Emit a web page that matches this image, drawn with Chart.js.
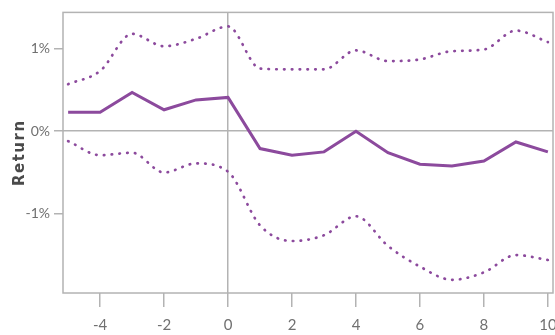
<!DOCTYPE html>
<html>
<head>
<meta charset="utf-8">
<script src="https://cdn.jsdelivr.net/npm/chart.js@4/dist/chart.umd.min.js"></script>
<style>
  html, body { margin: 0; padding: 0; background: #fff; }
  #wrap { width: 555px; height: 335px; }
</style>
</head>
<body>
<div id="wrap"><canvas id="event-chart"></canvas></div>
<script>
// days relative to the event
const days = [-5, -4, -3, -2, -1, 0, 1, 2, 3, 4, 5, 6, 7, 8, 9, 10];
// mean return, %
const meanReturn = [0.23, 0.23, 0.47, 0.26, 0.38, 0.41, -0.21, -0.29, -0.25, 0.0, -0.26, -0.40, -0.42, -0.36, -0.13, -0.25];
// upper / lower band, %
const upperBand = [0.57, 0.73, 1.18, 1.03, 1.12, 1.27, 0.76, 0.75, 0.75, 0.98, 0.85, 0.87, 0.97, 0.99, 1.22, 1.08];
const lowerBand = [-0.12, -0.29, -0.26, -0.50, -0.39, -0.49, -1.14, -1.33, -1.26, -1.03, -1.39, -1.64, -1.80, -1.71, -1.50, -1.56];
// tick labels
const xTicks = [-4, -2, 0, 2, 4, 6, 8, 10];
const yTicks = [-1, 0, 1];

const purple = '#8c4a9d';
const grey = '#b3b3b3';
const labelGrey = '#707070';

function toPoints(vals) {
    return days.map((d, i) => ({ x: d, y: vals[i] }));
}

// frame around the plot area + spaced-out axis title
const boxPlugin = {
    id: 'box',
    afterLayout(chart) {
        const s = chart.scales.y;
        if (!s._spaced) {
            const orig = s.drawTitle.bind(s);
            s.drawTitle = function () {
                const c = this.ctx;
                const old = c.letterSpacing;
                c.letterSpacing = '1.5px';
                orig();
                c.letterSpacing = old;
            };
            s._spaced = true;
        }
    },
    beforeDatasetsDraw(chart) {
        const a = chart.chartArea;
        const ctx = chart.ctx;
        ctx.save();
        ctx.strokeStyle = grey;
        ctx.lineWidth = 1.5;
        ctx.strokeRect(a.left, a.top, a.right - a.left, a.bottom - a.top);
        ctx.restore();
    }
};

const dotted = {
    borderColor: purple,
    borderWidth: 2.7,
    borderDash: [0.5, 7.3],
    borderCapStyle: 'round',
    pointRadius: 0,
    cubicInterpolationMode: 'monotone',
    fill: false
};

let ctx = document.getElementById('event-chart').getContext('2d');
let myChart = new Chart(ctx, {
    type: 'line',
    data: {
        datasets: [
            Object.assign({ label: 'Upper', data: toPoints(upperBand) }, dotted),
            Object.assign({ label: 'Lower', data: toPoints(lowerBand) }, dotted),
            {
                label: 'Return',
                data: toPoints(meanReturn),
                borderColor: purple,
                borderWidth: 3,
                pointRadius: 0,
                tension: 0,
                fill: false
            }
        ]
    },
    options: {
        responsive: true,
        maintainAspectRatio: false,
        animation: false,
        layout: { padding: { top: 12, right: 2, bottom: 0, left: 0 } },
        plugins: { legend: { display: false }, tooltip: { enabled: false } },
        scales: {
            x: {
                type: 'linear',
                min: -5.16,
                max: 10.16,
                afterBuildTicks: (scale) => { scale.ticks = xTicks.map(v => ({ value: v })); },
                afterFit: (scale) => {
                    scale.height = 42;
                    scale.paddingLeft = 0;
                    scale.paddingRight = 0;
                },
                border: { display: false },
                grid: {
                    color: (c) => c.tick && c.tick.value === 0 ? grey : 'rgba(0,0,0,0)',
                    tickColor: grey,
                    tickLength: 14,
                    lineWidth: 1.5
                },
                ticks: {
                    color: labelGrey,
                    font: { family: 'Lato, sans-serif', size: 15 },
                    padding: 9,
                    maxRotation: 0
                }
            },
            y: {
                min: -1.96,
                max: 1.44,
                afterBuildTicks: (scale) => { scale.ticks = yTicks.map(v => ({ value: v })); },
                afterFit: (scale) => { scale.width = 63; },
                border: { display: false },
                grid: {
                    color: (c) => c.tick && c.tick.value === 0 ? grey : 'rgba(0,0,0,0)',
                    tickColor: grey,
                    tickLength: 9,
                    lineWidth: 1.5
                },
                ticks: {
                    color: labelGrey,
                    font: { family: 'Lato, sans-serif', size: 14 },
                    padding: 4,
                    callback: (v) => v + '%'
                },
                title: {
                    display: true,
                    text: 'Return',
                    color: '#4a4a4a',
                    font: { family: "'DejaVu Sans', sans-serif", size: 15, weight: 'bold' },
                    padding: { top: 11, bottom: 0 }
                }
            }
        }
    },
    plugins: [boxPlugin]
});
</script>
</body>
</html>
